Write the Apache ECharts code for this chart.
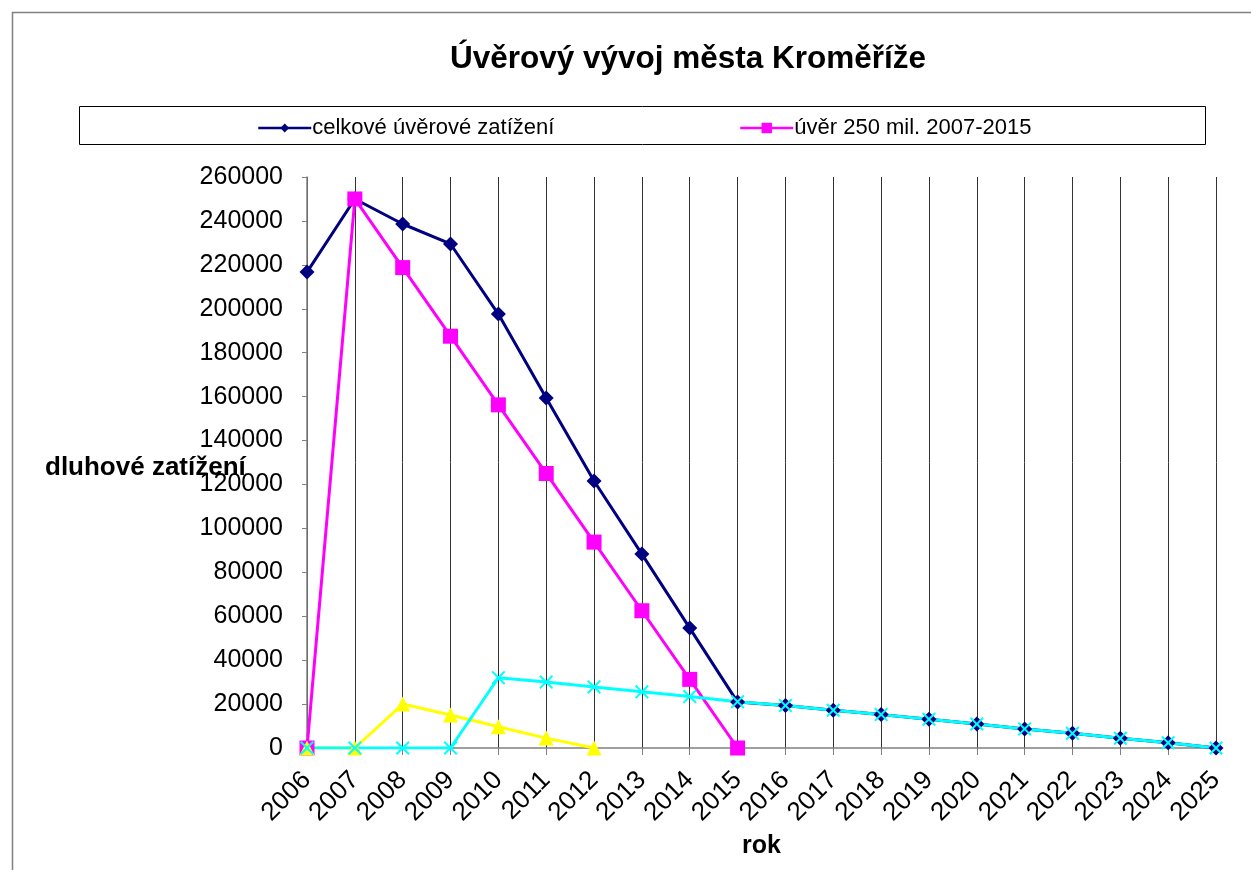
<!DOCTYPE html>
<html>
<head>
<meta charset="utf-8">
<script src="https://cdn.jsdelivr.net/npm/echarts@6/dist/echarts.min.js"></script>
<style>
  html, body { margin: 0; padding: 0; background: #fff; }
  #main { width: 1251px; height: 870px; }
</style>
</head>
<body>
<div id="main"></div>
<script>
// years on the x axis
const years = ['2006', '2007', '2008', '2009', '2010', '2011', '2012', '2013', '2014', '2015',
  '2016', '2017', '2018', '2019', '2020', '2021', '2022', '2023', '2024', '2025'];

// celkové úvěrové zatížení
const totalDebt = [216700, 250000, 238600, 229500, 197600, 159400, 121600, 88300, 54600, 20900,
  19300, 17200, 15200, 13100, 10900, 8700, 6700, 4400, 2400, 0];

// úvěr 250 mil. 2007-2015
const loan250 = [0, 250000, 218750, 187500, 156250, 125000, 93750, 62500, 31250, 0];

// other loans (no legend entry)
const yellowLoan = [0, 0, 20000, 15000, 9700, 4500, 0];
const cyanLoan = [0, 0, 0, 0, 32000, 30000, 27800, 25600, 23400, 21100,
  19300, 17200, 15200, 13100, 10900, 8700, 6700, 4400, 2400, 0];

const FONT = '"Liberation Sans", Arial, sans-serif';
const xMark = 'path://M0,1L1,0L5,4L9,0L10,1L6,5L10,9L9,10L5,6L1,10L0,9L4,5Z';

const chart = echarts.init(document.getElementById('main'), null, { renderer: 'canvas' });

const legendText = { fontFamily: FONT, fontSize: 22, color: '#000', padding: [0, 0, 0, -4] };

const option = {
  backgroundColor: '#ffffff',
  animation: false,
  textStyle: { fontFamily: FONT },
  title: {
    text: 'Úvěrový vývoj města Kroměříže',
    left: 683,
    textAlign: 'center',
    top: 38,
    textStyle: { fontFamily: FONT, fontSize: 31.5, fontWeight: 'bold', color: '#000' }
  },
  graphic: [
    {
      type: 'rect',
      left: 10, top: 10,
      shape: { width: 1300, height: 900 },
      style: { fill: 'none', stroke: '#808080', lineWidth: 1.5 },
      silent: true
    },
    {
      type: 'rect',
      left: 77, top: 104,
      shape: { width: 1126, height: 38 },
      style: { fill: 'none', stroke: '#000', lineWidth: 1 },
      silent: true
    },
    {
      type: 'text',
      left: 45, top: 455,
      style: { text: 'dluhové zatížení', font: 'bold 26px ' + FONT, fill: '#000' },
      z: 10
    }
  ],
  legend: [
    {
      left: 252, top: 112,
      itemWidth: 53, itemHeight: 11,
      data: ['celkové úvěrové zatížení'],
      lineStyle: { width: 2.5 },
      textStyle: legendText
    },
    {
      left: 734, top: 112,
      itemWidth: 53, itemHeight: 13,
      data: ['úvěr 250 mil. 2007-2015'],
      lineStyle: { width: 2.5 },
      textStyle: legendText
    }
  ],
  grid: { left: 307, right: 35, top: 177, bottom: 122, containLabel: false },
  xAxis: {
    type: 'category',
    data: years,
    boundaryGap: false,
    name: 'rok',
    nameLocation: 'middle',
    nameGap: 80,
    nameTextStyle: { fontFamily: FONT, fontSize: 25, fontWeight: 'bold', color: '#000' },
    axisLine: { lineStyle: { color: '#808080', width: 1.5 } },
    axisTick: { show: true, length: 7, alignWithLabel: true, lineStyle: { color: '#808080' } },
    axisLabel: { rotate: 45, fontSize: 26, color: '#000', margin: 28, interval: 0, fontFamily: FONT },
    splitLine: { show: true, lineStyle: { color: '#333', width: 1 } }
  },
  yAxis: {
    type: 'value',
    min: 0, max: 260000, interval: 20000,
    axisLine: { show: true, lineStyle: { color: '#808080', width: 1.5 } },
    axisTick: { show: true, length: 5, lineStyle: { color: '#808080' } },
    axisLabel: {
      fontSize: 25, color: '#000', margin: 24, fontFamily: FONT,
      formatter: function (v) { return String(v); }
    },
    splitLine: { show: false }
  },
  series: [
    {
      name: 'celkové úvěrové zatížení',
      type: 'line',
      data: totalDebt,
      color: '#000080',
      symbol: 'diamond',
      symbolSize: 15,
      showAllSymbol: true,
      lineStyle: { width: 3 }
    },
    {
      name: 'úvěr 250 mil. 2007-2015',
      type: 'line',
      data: loan250,
      color: '#ff00ff',
      symbol: 'rect',
      symbolSize: 15,
      showAllSymbol: true,
      lineStyle: { width: 3 }
    },
    {
      name: 'yellow',
      type: 'line',
      data: yellowLoan,
      color: '#ffff00',
      symbol: 'triangle',
      symbolSize: 15,
      showAllSymbol: true,
      lineStyle: { width: 3 }
    },
    {
      name: 'cyan',
      type: 'line',
      data: cyanLoan,
      color: '#00ffff',
      symbol: xMark,
      symbolSize: 14,
      showAllSymbol: true,
      lineStyle: { width: 3 }
    }
  ]
};

chart.setOption(option);
</script>
</body>
</html>
